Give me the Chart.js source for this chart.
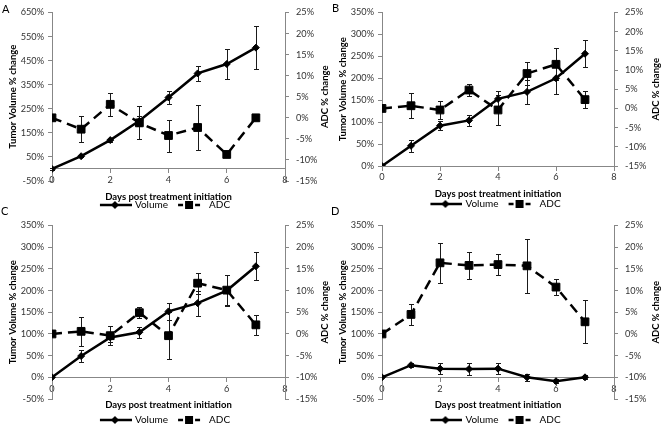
<!DOCTYPE html>
<html>
<head>
<meta charset="utf-8">
<script src="https://cdn.jsdelivr.net/npm/chart.js@4.4.1/dist/chart.umd.min.js"></script>
<style>
html, body { margin: 0; padding: 0; background: #fff; overflow: hidden; width: 661px; height: 426px; }
canvas { position: absolute; }
.tag { position: absolute; font: 11px Lato, sans-serif; line-height: 1; color: #000; z-index: 5; }
</style>
</head>
<body>
<canvas id="cA" width="330" height="220" style="left:0;top:0"></canvas>
<canvas id="cB" width="331" height="219" style="left:330px;top:0"></canvas>
<canvas id="cC" width="330" height="222" style="left:0;top:213px"></canvas>
<canvas id="cD" width="331" height="222" style="left:330px;top:213px"></canvas>
<div class="tag" style="left:2px;top:3px">A</div>
<div class="tag" style="left:332px;top:2px">B</div>
<div class="tag" style="left:1px;top:205px">C</div>
<div class="tag" style="left:331px;top:205px">D</div>
<script>
const days = [0, 1, 2, 3, 4, 5, 6, 7]

// panel A
const volA    = [0, 53, 120, 200, 297, 397, 436, 504]
const volAErr = [3, 5, 6, 20, 27, 30, 62, 90]
const adcA    = [0, -2.7, 3.2, -1.2, -4.2, -2.3, -8.7, 0]
const adcAErr = [0, 3.1, 2.7, 3.9, 3.8, 5.4, 0, 0]

// panel B
const volB    = [0, 46, 92, 104, 153, 169, 200, 256]
const volBErr = [0, 14, 10, 13, 17, 27, 35, 31]
const adcB    = [0, 0.7, -0.4, 4.8, -0.4, 9.1, 11.5, 2.3]
const adcBErr = [0, 3.2, 2.3, 1.5, 4, 2.9, 4.2, 2.2]

// panel C
const volC    = [0, 49, 92, 104, 152, 171, 200, 256]
const volCErr = [0, 13, 10, 13, 20, 29, 35, 32]
const adcC    = [0, 0.6, -0.4, 4.9, -0.4, 11.7, 10.1, 2.1]
const adcCErr = [0, 3.3, 2.2, 1.3, 5.4, 2.4, 3.4, 2.3]

// panel D
const volD    = [0, 28, 20, 19, 20, 0, -9, 0]
const volDErr = [0, 4, 13, 13, 13, 8, 5, 5]
const adcD    = [0, 4.5, 16.4, 15.8, 16.0, 15.7, 10.8, 2.8]
const adcDErr = [0, 2.4, 4.6, 3.2, 2.5, 6.2, 1.8, 5]

// axis ranges [min, max, step]
const volRangeA = [-50, 650, 100]
const volRangeB = [0, 350, 50]
const volRangeC = [-50, 350, 50]
const volRangeD = [-50, 350, 50]
const adcRange  = [-15, 25, 5]
const dayRange  = [0, 8, 2]

const FONT = 'Lato, sans-serif'
const AXIS_GRAY = '#878787'

let zip = (xs, ys) => xs.map((x, i) => ({x: x, y: ys[i]}))

// little legend symbols: line + marker
function legendSymbol(dashed){
    let c = document.createElement('canvas')
    c.width = 34; c.height = 10
    let g = c.getContext('2d')
    g.strokeStyle = '#000'; g.fillStyle = '#000'; g.lineWidth = 2.5
    if (dashed){
        g.beginPath(); g.moveTo(6, 5); g.lineTo(11, 5); g.moveTo(23, 5); g.lineTo(28, 5); g.stroke()
        g.fillRect(13, 1, 8, 8)
    } else {
        g.beginPath(); g.moveTo(2, 5); g.lineTo(34, 5); g.stroke()
        g.beginPath(); g.moveTo(13, 5); g.lineTo(17, 1); g.lineTo(21, 5); g.lineTo(17, 9); g.closePath(); g.fill()
    }
    return c
}
const volSymbol = legendSymbol(false)
const adcSymbol = legendSymbol(true)

const errorBars = {
    id: 'errorBars',
    beforeDatasetsDraw(chart){
        const ctx = chart.ctx
        const xs = chart.scales.x
        chart.data.datasets.forEach(ds => {
            const ys = chart.scales[ds.yAxisID]
            ctx.save()
            ctx.strokeStyle = '#1a1a1a'
            ctx.lineWidth = 1
            ds.data.forEach((p, j) => {
                const e = ds.errors[j]
                if (!e) return
                const x = Math.round(xs.getPixelForValue(p.x)) + 0.5
                const yLo = Math.round(ys.getPixelForValue(p.y - e)) + 0.5
                const yHi = Math.round(ys.getPixelForValue(p.y + e)) + 0.5
                ctx.beginPath()
                ctx.moveTo(x, yLo); ctx.lineTo(x, yHi)
                ctx.moveTo(x - 2.5, yLo); ctx.lineTo(x + 2.5, yLo)
                ctx.moveTo(x - 2.5, yHi); ctx.lineTo(x + 2.5, yHi)
                ctx.stroke()
            })
            ctx.restore()
        })
    }
}

// right title reads bottom-to-top like the left one
const rightTitle = {
    id: 'rightTitle',
    afterDraw(chart){
        const ctx = chart.ctx
        const a = chart.chartArea
        ctx.save()
        ctx.translate(chart.width - 5.5, (a.top + a.bottom) / 2)
        ctx.rotate(-Math.PI / 2)
        ctx.font = 'bold 9.5px ' + FONT
        ctx.fillStyle = '#000'
        ctx.textAlign = 'center'
        ctx.textBaseline = 'middle'
        ctx.fillText('ADC % change', 0, 0)
        ctx.restore()
    }
}

function makePanel(id, vol, volErr, adc, adcErr, volRange, rightW, legendGap){
    const pct = v => v + '%'
    return new Chart(document.getElementById(id), {
        type: 'line',
        data: {
            datasets: [{
                label: 'Volume',
                data: zip(days, vol),
                errors: volErr,
                yAxisID: 'y',
                order: 1,
                borderColor: '#000',
                backgroundColor: '#000',
                borderWidth: 2.5,
                pointStyle: 'rectRot',
                pointRadius: 3.5,
                pointBorderWidth: 1,
                tension: 0
            }, {
                label: 'ADC',
                data: zip(days, adc),
                errors: adcErr,
                yAxisID: 'y1',
                order: 0,
                borderColor: '#000',
                backgroundColor: '#000',
                borderWidth: 2.5,
                borderDash: [10, 6],
                pointStyle: 'rect',
                pointRadius: 5.5,
                pointBorderWidth: 1,
                tension: 0
            }]
        },
        options: {
            responsive: false,
            animation: false,
            layout: { padding: { top: 6, left: 0, right: 0, bottom: 0 } },
            scales: {
                x: {
                    type: 'linear',
                    position: { y: 0 },
                    min: dayRange[0], max: dayRange[1],
                    grid: { drawOnChartArea: false, drawTicks: true, tickLength: 4, color: AXIS_GRAY },
                    border: { color: AXIS_GRAY, width: 1 },
                    ticks: { stepSize: dayRange[2], padding: 2, color: '#333', font: { family: FONT, size: 9.2 } },
                    title: {
                        display: true, text: 'Days post treatment initiation', color: '#000',
                        font: { family: FONT, size: 9.5, weight: 'bold' }, padding: { top: 3, bottom: 0 }
                    }
                },
                y: {
                    position: 'left',
                    min: volRange[0], max: volRange[1],
                    grid: { drawOnChartArea: false, drawTicks: true, tickLength: 4, color: AXIS_GRAY },
                    border: { color: AXIS_GRAY, width: 1 },
                    ticks: { stepSize: volRange[2], padding: 4, color: '#333', callback: pct, font: { family: FONT, size: 9.2 } },
                    title: {
                        display: true, text: 'Tumor Volume % change', color: '#000',
                        font: { family: FONT, size: 9.5, weight: 'bold' }, padding: { top: 7, bottom: 0 }
                    },
                    afterFit: s => { s.width = 52 }
                },
                y1: {
                    position: 'right',
                    min: adcRange[0], max: adcRange[1],
                    grid: { drawOnChartArea: false, drawTicks: true, tickLength: 4, color: AXIS_GRAY },
                    border: { color: AXIS_GRAY, width: 1 },
                    ticks: { stepSize: adcRange[2], padding: 7, color: '#333', callback: pct, font: { family: FONT, size: 9.2 } },
                    afterFit: s => { s.width = rightW }
                }
            },
            plugins: {
                tooltip: { enabled: false },
                legend: {
                    position: 'bottom',
                    title: { display: true, text: ' ', font: { size: 10, lineHeight: 1 }, padding: { top: legendGap, bottom: 0 } },
                    labels: {
                        usePointStyle: true,
                        pointStyleWidth: 30,
                        padding: 6,
                        color: '#000',
                        font: { family: FONT, size: 10 },
                        generateLabels: () => [
                            { text: 'Volume', pointStyle: volSymbol, fontColor: '#000', datasetIndex: 0, hidden: false, lineWidth: 0 },
                            { text: 'ADC', pointStyle: adcSymbol, fontColor: '#000', datasetIndex: 1, hidden: false, lineWidth: 0 }
                        ]
                    }
                }
            }
        },
        plugins: [errorBars, rightTitle]
    })
}

makePanel('cA', volA, volAErr, adcA, adcAErr, volRangeA, 45, 3)
makePanel('cB', volB, volBErr, adcB, adcBErr, volRangeB, 47, 17)
makePanel('cC', volC, volCErr, adcC, adcCErr, volRangeC, 45, 0)
makePanel('cD', volD, volDErr, adcD, adcDErr, volRangeD, 47, 0)
</script>
</body>
</html>
